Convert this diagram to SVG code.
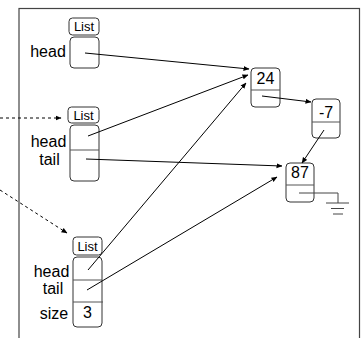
<svg xmlns="http://www.w3.org/2000/svg" width="364" height="338" viewBox="0 0 364 338">
  <style>
    .frame { fill: #ffffff; stroke: #444444; stroke-width: 1.2; }
    .box { fill: #ffffff; stroke: #333333; stroke-width: 1; }
    .div { stroke: #555555; stroke-width: 1; }
    .lbl { font-family: "Liberation Sans", Arial, sans-serif; font-size: 16px; fill: #000000; text-anchor: middle; }
    .tag { font-family: "Liberation Sans", Arial, sans-serif; font-size: 13px; fill: #000000; text-anchor: middle; }
    .ptr { stroke: #000000; stroke-width: 1; fill: none; marker-end: url(#head); }
    .dash { stroke: #000000; stroke-width: 1; fill: none; stroke-dasharray: 3 3; marker-end: url(#head); }
    .gnd { stroke: #444444; stroke-width: 1; fill: none; }
  </style>
  <defs>
    <marker id="head" markerWidth="6" markerHeight="6" refX="5.5" refY="3" orient="auto" markerUnits="userSpaceOnUse">
      <path d="M0,0.5 L6,3 L0,5.5 Z" fill="#000000"/>
    </marker>
  </defs>

  <!-- frame -->
  <rect class="frame" x="19" y="8.5" width="340.5" height="345"/>

  <!-- list with head only -->
  <g id="list1">
    <rect class="box" x="69" y="18" width="30" height="17" rx="3.5"/>
    <text class="tag" x="84" y="31">List</text>
    <rect class="box" x="70" y="37" width="29" height="31" rx="4"/>
    <text class="lbl" x="48" y="57">head</text>
  </g>

  <!-- list with head and tail -->
  <g id="list2">
    <rect class="box" x="68" y="107" width="31" height="16" rx="3.5"/>
    <text class="tag" x="83.5" y="120">List</text>
    <rect class="box" x="70" y="125" width="29" height="56" rx="4"/>
    <line class="div" x1="70" y1="150" x2="99" y2="150"/>
    <text class="lbl" x="48.5" y="147">head</text>
    <text class="lbl" x="49.5" y="165">tail</text>
  </g>

  <!-- list with head, tail and size -->
  <g id="list3">
    <rect class="box" x="73" y="237" width="29" height="18" rx="3.5"/>
    <text class="tag" x="87.5" y="251">List</text>
    <rect class="box" x="73" y="257" width="29" height="70" rx="4"/>
    <line class="div" x1="73" y1="280" x2="102" y2="280"/>
    <line class="div" x1="73" y1="302" x2="103" y2="302"/>
    <text class="lbl" x="51.5" y="277">head</text>
    <text class="lbl" x="53" y="294">tail</text>
    <text class="lbl" x="54" y="319">size</text>
    <text class="lbl" x="87.5" y="318">3</text>
  </g>

  <!-- nodes -->
  <g id="node24">
    <rect class="box" x="251" y="68" width="29" height="39" rx="4"/>
    <line class="div" x1="251" y1="90" x2="280" y2="90"/>
    <text class="lbl" x="265.5" y="84">24</text>
  </g>
  <g id="node-7">
    <rect class="box" x="312" y="99" width="28" height="39" rx="4"/>
    <line class="div" x1="312" y1="122" x2="340" y2="122"/>
    <text class="lbl" x="326" y="118">-7</text>
  </g>
  <g id="node87">
    <rect class="box" x="286" y="163" width="28" height="39" rx="4"/>
    <line class="div" x1="286" y1="185" x2="314" y2="185"/>
    <text class="lbl" x="300" y="178">87</text>
  </g>

  <!-- connectors -->
  <g id="connectors">
    <line class="dash" x1="0" y1="118" x2="61" y2="118"/>
    <line class="dash" x1="0" y1="190" x2="67" y2="233"/>
    <line class="ptr" x1="85" y1="53" x2="249" y2="69"/>
    <line class="ptr" x1="88" y1="136" x2="248" y2="75"/>
    <line class="ptr" x1="86" y1="159" x2="282" y2="166"/>
    <line class="ptr" x1="88" y1="270" x2="246" y2="83"/>
    <line class="ptr" x1="87" y1="290" x2="277" y2="177"/>
    <line class="ptr" x1="262" y1="96" x2="311" y2="102"/>
    <line class="ptr" x1="324" y1="130" x2="302" y2="163"/>
    <!-- null pointer to ground -->
    <path class="gnd" d="M299,193 H338 V203"/>
    <line class="gnd" x1="326" y1="203" x2="349" y2="203"/>
    <line class="gnd" x1="331" y1="208.5" x2="344" y2="208.5"/>
    <line class="gnd" x1="333" y1="214" x2="343" y2="214"/>
  </g>
</svg>
